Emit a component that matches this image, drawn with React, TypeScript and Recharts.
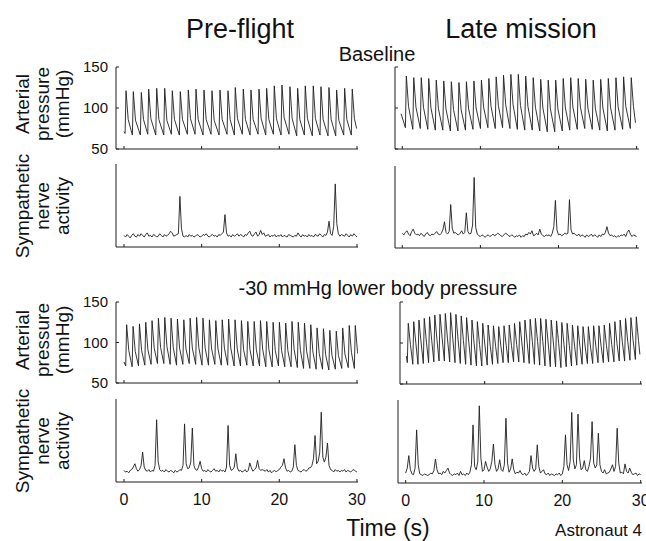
import { LineChart, Line, XAxis, YAxis } from 'recharts';

const font = '"Liberation Sans", Arial, Helvetica, sans-serif';
const ink = '#1e1e1e';

const timeTicks = [0, 10, 20, 30];
const pressureTicks = [50, 100, 150];

// arterial pressure, one entry per beat: time of systolic peak (s), systolic, diastolic before it, dicrotic notch (mmHg)
const preBaseT = [0.26, 1.2, 2.23, 3.18, 4.21, 5.24, 6.22, 7.25, 8.28, 9.27, 10.3, 11.33, 12.36, 13.39, 14.33, 15.36, 16.35, 17.38, 18.37, 19.35, 20.34, 21.37, 22.36, 23.34, 24.37, 25.36, 26.39, 27.38, 28.41, 29.39];
const preBaseSys = [121, 120, 119, 123, 124, 124, 121, 120, 122, 123, 122, 121, 122, 121, 125, 123, 122, 123, 124, 127, 128, 126, 124, 127, 127, 126, 125, 122, 124, 123];
const preBaseDia = [69, 67, 67, 68, 67, 67, 68, 67, 68, 68, 67, 68, 67, 68, 67, 68, 67, 68, 67, 68, 67, 68, 66, 67, 66, 67, 66, 66, 67, 67];
const preBaseNotch = [86, 85, 86, 87, 86, 85, 86, 86, 87, 86, 86, 85, 86, 86, 87, 86, 86, 87, 86, 87, 88, 87, 86, 87, 87, 86, 86, 85, 86, 87];
const preBaseEnds = [[0.0, 71], [29.95, 75]];

const lateBaseT = [0.52, 1.47, 2.43, 3.39, 4.35, 5.31, 6.28, 7.25, 8.21, 9.17, 10.13, 11.08, 12.02, 12.96, 13.9, 14.85, 15.8, 16.76, 17.72, 18.68, 19.64, 20.6, 21.56, 22.52, 23.48, 24.44, 25.4, 26.37, 27.35, 28.33, 29.31];
const lateBaseSys = [139, 137, 137, 136, 134, 133, 132, 131, 132, 133, 134, 136, 138, 140, 141, 141, 139, 137, 135, 134, 134, 136, 137, 136, 135, 134, 135, 136, 137, 138, 137];
const lateBaseDia = [76, 74, 75, 74, 73, 73, 72, 72, 73, 74, 75, 76, 75, 76, 75, 74, 73, 73, 72, 71, 71, 72, 73, 74, 75, 74, 73, 72, 73, 74, 75];
const lateBaseNotch = [102, 101, 101, 100, 99, 99, 98, 98, 99, 100, 101, 102, 103, 104, 104, 103, 102, 101, 100, 99, 99, 100, 101, 101, 100, 99, 100, 101, 101, 102, 102];
const lateBaseEnds = [[-0.15, 93], [29.85, 82]];

const preLbnpT = [0.34, 1.17, 1.99, 2.8, 3.61, 4.43, 5.25, 6.06, 6.88, 7.7, 8.52, 9.35, 10.17, 11.0, 11.82, 12.65, 13.47, 14.3, 15.12, 15.94, 16.76, 17.57, 18.38, 19.2, 20.01, 20.82, 21.63, 22.44, 23.24, 24.05, 24.86, 25.68, 26.5, 27.33, 28.16, 29.0, 29.78];
const preLbnpSys = [122, 120, 123, 125, 127, 130, 131, 130, 129, 128, 130, 131, 130, 128, 127, 128, 129, 128, 127, 126, 126, 127, 126, 125, 125, 124, 126, 125, 124, 122, 118, 117, 115, 114, 118, 121, 121];
const preLbnpDia = [71, 70, 71, 72, 73, 74, 74, 73, 72, 73, 74, 73, 72, 72, 73, 72, 72, 71, 71, 72, 71, 71, 70, 70, 71, 70, 70, 69, 68, 68, 67, 67, 66, 67, 68, 69, 68];
const preLbnpNotch = [90, 89, 90, 91, 93, 94, 95, 94, 93, 92, 93, 94, 93, 92, 92, 93, 93, 92, 91, 91, 91, 92, 91, 90, 90, 90, 91, 90, 89, 88, 86, 85, 84, 84, 86, 88, 89];
const preLbnpEnds = [[0.0, 76], [30.12, 86]];

const lateLbnpT = [0.2, 0.9, 1.57, 2.25, 2.93, 3.6, 4.27, 4.95, 5.63, 6.31, 6.99, 7.68, 8.37, 9.06, 9.75, 10.44, 11.12, 11.8, 12.48, 13.15, 13.82, 14.49, 15.16, 15.83, 16.5, 17.17, 17.85, 18.53, 19.21, 19.89, 20.57, 21.25, 21.93, 22.61, 23.29, 23.97, 24.65, 25.33, 26.01, 26.69, 27.37, 28.06, 28.75, 29.44];
const lateLbnpSys = [124, 126, 128, 130, 132, 134, 135, 136, 137, 135, 133, 131, 128, 126, 124, 122, 121, 120, 121, 122, 124, 126, 128, 129, 130, 130, 129, 128, 127, 125, 124, 122, 121, 120, 120, 121, 121, 122, 124, 126, 128, 130, 131, 132];
const lateLbnpDia = [76, 74, 74, 75, 76, 77, 78, 78, 77, 76, 75, 74, 73, 72, 72, 73, 74, 75, 76, 76, 77, 77, 76, 75, 74, 73, 72, 71, 71, 70, 71, 72, 73, 74, 75, 75, 76, 76, 77, 77, 78, 78, 79, 80];
const lateLbnpNotch = [98, 99, 100, 101, 103, 104, 105, 105, 105, 104, 103, 101, 99, 98, 97, 96, 96, 96, 97, 97, 98, 100, 101, 102, 102, 102, 101, 100, 99, 98, 97, 96, 96, 95, 95, 96, 96, 97, 98, 99, 101, 102, 103, 103];
const lateLbnpEnds = [[-0.05, 84], [29.9, 86]];

// sympathetic nerve activity (arbitrary units), sampled every 0.2 s from 0 to 30 s
const snaStep = 0.2;
const preBaseSna = [
  14, 12, 15, 13, 11, 14, 16, 13, 12, 15, 13, 16, 14, 12, 15, 17, 13, 14, 12, 15,
  14, 12, 13, 16, 14, 12, 15, 13, 14, 16, 19, 17, 13, 14, 15, 16, 61, 22, 13, 12,
  14, 12, 15, 13, 14, 12, 13, 15, 14, 12, 13, 15, 14, 16, 13, 12, 14, 15, 13, 14,
  12, 15, 14, 16, 18, 39, 17, 13, 14, 12, 15, 13, 14, 16, 13, 15, 14, 12, 15, 14,
  17, 19, 14, 13, 16, 18, 13, 15, 20, 15, 17, 13, 14, 15, 12, 14, 13, 15, 12, 14,
  13, 15, 12, 14, 13, 12, 15, 14, 13, 12, 14, 13, 17, 14, 12, 15, 13, 14, 12, 15,
  13, 14, 12, 15, 14, 13, 16, 14, 12, 15, 14, 18, 31, 16, 14, 25, 76, 28, 16, 13,
  15, 14, 13, 16, 14, 12, 15, 13, 16, 14, 12];
const lateBaseSna = [
  18, 16, 19, 21, 17, 15, 20, 23, 18, 16, 17, 15, 18, 16, 14, 17, 19, 16, 15, 17,
  16, 18, 20, 17, 16, 18, 22, 32, 19, 17, 20, 53, 24, 18, 19, 17, 16, 18, 21, 17,
  19, 43, 20, 17, 18, 28, 86, 25, 17, 15, 14, 16, 15, 13, 15, 16, 14, 15, 17, 15,
  16, 18, 17, 15, 14, 16, 18, 17, 15, 14, 16, 15, 13, 15, 14, 16, 13, 15, 14, 17,
  16, 19, 17, 21, 15, 16, 18, 16, 23, 17, 15, 14, 16, 15, 16, 14, 18, 26, 58, 22,
  16, 17, 15, 16, 18, 17, 18, 59, 22, 17, 18, 16, 15, 17, 14, 16, 15, 13, 16, 14,
  15, 17, 14, 16, 15, 13, 16, 14, 17, 16, 19, 26, 18, 15, 16, 14, 15, 13, 15, 14,
  16, 15, 17, 14, 19, 22, 17, 14, 16, 15, 14];
const preLbnpSna = [
  14, 12, 13, 11, 14, 15, 18, 22, 16, 13, 15, 20, 36, 18, 14, 13, 15, 12, 14, 13,
  20, 75, 24, 15, 13, 14, 12, 15, 13, 12, 14, 13, 11, 14, 12, 13, 15, 14, 20, 70,
  22, 16, 17, 24, 65, 20, 15, 14, 18, 25, 16, 13, 14, 12, 15, 13, 12, 14, 16, 13,
  14, 12, 15, 13, 14, 12, 18, 68, 20, 14, 15, 18, 34, 17, 13, 14, 12, 13, 15, 12,
  14, 23, 17, 13, 15, 17, 26, 16, 14, 15, 14, 13, 15, 12, 14, 11, 13, 14, 12, 14,
  15, 18, 20, 28, 17, 13, 14, 12, 13, 18, 45, 20, 14, 13, 12, 14, 15, 13, 14, 17,
  17, 20, 28, 56, 22, 25, 35, 84, 30, 24, 30, 47, 20, 15, 14, 12, 15, 13, 14, 12,
  14, 13, 15, 12, 14, 13, 12, 14, 15, 13, 12];
const lateLbnpSna = [
  12, 18, 33, 16, 11, 10, 18, 64, 22, 11, 10, 9, 11, 10, 9, 10, 12, 11, 15, 29,
  16, 11, 12, 10, 14, 12, 15, 18, 12, 10, 9, 11, 10, 12, 9, 14, 10, 11, 9, 12,
  10, 13, 22, 70, 20, 16, 25, 93, 30, 14, 16, 26, 19, 14, 17, 26, 47, 22, 14, 17,
  28, 16, 14, 22, 78, 24, 13, 17, 29, 16, 11, 13, 12, 15, 11, 10, 12, 9, 11, 14,
  33, 18, 14, 17, 46, 20, 12, 14, 16, 11, 10, 12, 9, 11, 10, 9, 11, 10, 12, 9,
  11, 20, 58, 22, 15, 26, 85, 28, 17, 22, 83, 30, 16, 18, 27, 16, 14, 20, 30, 74,
  24, 18, 22, 60, 22, 14, 12, 16, 11, 12, 13, 17, 22, 14, 20, 66, 24, 12, 13, 11,
  23, 14, 12, 18, 13, 10, 11, 12, 9, 11, 10];

type Pt = { t: number; v: number };

// upstroke and notch placement relative to the systolic peak
const RISE = 0.12;
const NOTCH = 0.28;

const pressureTrace = (beatT: number[], sys: number[], dia: number[], notch: number[], ends: number[][]): Pt[] => {
  const pts: Pt[] = [{ t: ends[0][0], v: ends[0][1] }];
  beatT.forEach((t, i) => {
    pts.push({ t: +(t - RISE).toFixed(2), v: dia[i] });
    pts.push({ t, v: sys[i] });
    pts.push({ t: +(t + NOTCH).toFixed(2), v: notch[i] });
  });
  pts.push({ t: ends[1][0], v: ends[1][1] });
  return pts;
};

const snaTrace = (vals: number[]): Pt[] => vals.map((v, i) => ({ t: +(i * snaStep).toFixed(1), v }));

const AXW = 60;
const PADT = 10;
const PADB = 30;
const PADR = 14;

type PanelProps = {
  left: number;
  top: number;
  w: number;
  h: number;
  xDomain: number[];
  data: Pt[];
  pressure?: boolean;
  yLabels?: boolean;
  xLabels?: boolean;
};

const Panel = ({ left, top, w, h, xDomain, data, pressure, yLabels, xLabels }: PanelProps) => {
  const xTick = (p: any) => (
    <g>
      <line x1={p.x} x2={p.x} y1={p.y} y2={p.y - 3} stroke={ink} strokeWidth={1} />
      {xLabels && (
        <text x={p.x} y={p.y + 23} textAnchor="middle" fontSize={16} fontFamily={font} fill="#111">
          {p.payload.value}
        </text>
      )}
    </g>
  );
  const yTick = (p: any) => (
    <g>
      <line x1={p.x} x2={p.x + 3} y1={p.y} y2={p.y} stroke={ink} strokeWidth={1} />
      {yLabels && (
        <text x={p.x - 8} y={p.y + 5} textAnchor="end" fontSize={15} fontFamily={font} fill="#111">
          {p.payload.value}
        </text>
      )}
    </g>
  );
  return (
    <div style={{ position: 'absolute', left: left - AXW, top: top - PADT }}>
      <LineChart width={w + AXW + PADR} height={h + PADT + PADB} data={data} margin={{ top: PADT, right: PADR, bottom: 0, left: 0 }}>
        <XAxis dataKey="t" type="number" domain={xDomain} ticks={timeTicks} interval={0} allowDataOverflow height={PADB}
          axisLine={{ stroke: ink, strokeWidth: 1 }} tickLine={false} tickSize={0} tickMargin={0} tick={xTick} />
        <YAxis type="number" domain={pressure ? [50, 150] : [0, 100]} ticks={pressure ? pressureTicks : undefined} interval={0}
          allowDataOverflow width={AXW} axisLine={{ stroke: ink, strokeWidth: 1 }} tickLine={false} tickSize={0} tickMargin={0}
          tick={pressure ? yTick : false} />
        <Line dataKey="v" type="linear" stroke={ink} strokeWidth={0.9} dot={false} isAnimationActive={false} />
      </LineChart>
    </div>
  );
};

const RotLabel = ({ cy, lines }: { cy: number; lines: string[] }) => (
  <g fontSize={19} fontFamily={font} fill="#111" textAnchor="middle">
    {lines.map((s, i) => {
      const x = 29 + i * 20;
      return (
        <text key={s} x={x} y={cy} transform={`rotate(-90, ${x}, ${cy})`}>
          {s}
        </text>
      );
    })}
  </g>
);

const leftDom = [-1.03, 30.13];

export default function App() {
  return (
    <div style={{ position: 'absolute', left: 0, top: 0, width: 646, height: 541, background: '#fff', overflow: 'hidden' }}>
      <Panel left={116} top={67} w={242} h={82} xDomain={leftDom} pressure yLabels
        data={pressureTrace(preBaseT, preBaseSys, preBaseDia, preBaseNotch, preBaseEnds)} />
      <Panel left={116} top={164} w={242} h={83} xDomain={leftDom} data={snaTrace(preBaseSna)} />
      <Panel left={395} top={67} w={244} h={82} xDomain={[-0.93, 30.3]} pressure
        data={pressureTrace(lateBaseT, lateBaseSys, lateBaseDia, lateBaseNotch, lateBaseEnds)} />
      <Panel left={395} top={166} w={244} h={82} xDomain={[-0.93, 30.3]} data={snaTrace(lateBaseSna)} />
      <Panel left={116} top={302} w={242} h={81} xDomain={leftDom} pressure yLabels
        data={pressureTrace(preLbnpT, preLbnpSys, preLbnpDia, preLbnpNotch, preLbnpEnds)} />
      <Panel left={116} top={399} w={242} h={83} xDomain={leftDom} xLabels data={snaTrace(preLbnpSna)} />
      <Panel left={400} top={302} w={242} h={82} xDomain={[-0.86, 30.17]} pressure
        data={pressureTrace(lateLbnpT, lateLbnpSys, lateLbnpDia, lateLbnpNotch, lateLbnpEnds)} />
      <Panel left={398} top={400} w={244} h={83} xDomain={[-0.98, 30.17]} xLabels data={snaTrace(lateLbnpSna)} />

      <svg width={646} height={541} style={{ position: 'absolute', left: 0, top: 0, pointerEvents: 'none' }}>
        <g fontFamily={font} fill="#111">
          <text x={240} y={38} fontSize={27} textAnchor="middle">Pre-flight</text>
          <text x={521} y={38} fontSize={27} textAnchor="middle">Late mission</text>
          <text x={377} y={61} fontSize={20} textAnchor="middle">Baseline</text>
          <text x={378} y={295} fontSize={20} textAnchor="middle">-30 mmHg lower body pressure</text>
          <text x={388} y={536} fontSize={23} textAnchor="middle">Time (s)</text>
          <text x={642} y={536} fontSize={17} textAnchor="end">Astronaut 4</text>
        </g>
        <RotLabel cy={104} lines={['Arterial', 'pressure', '(mmHg)']} />
        <RotLabel cy={206} lines={['Sympathetic', 'nerve', 'activity']} />
        <RotLabel cy={340} lines={['Arterial', 'pressure', '(mmHg)']} />
        <RotLabel cy={441} lines={['Sympathetic', 'nerve', 'activity']} />
      </svg>
    </div>
  );
}
